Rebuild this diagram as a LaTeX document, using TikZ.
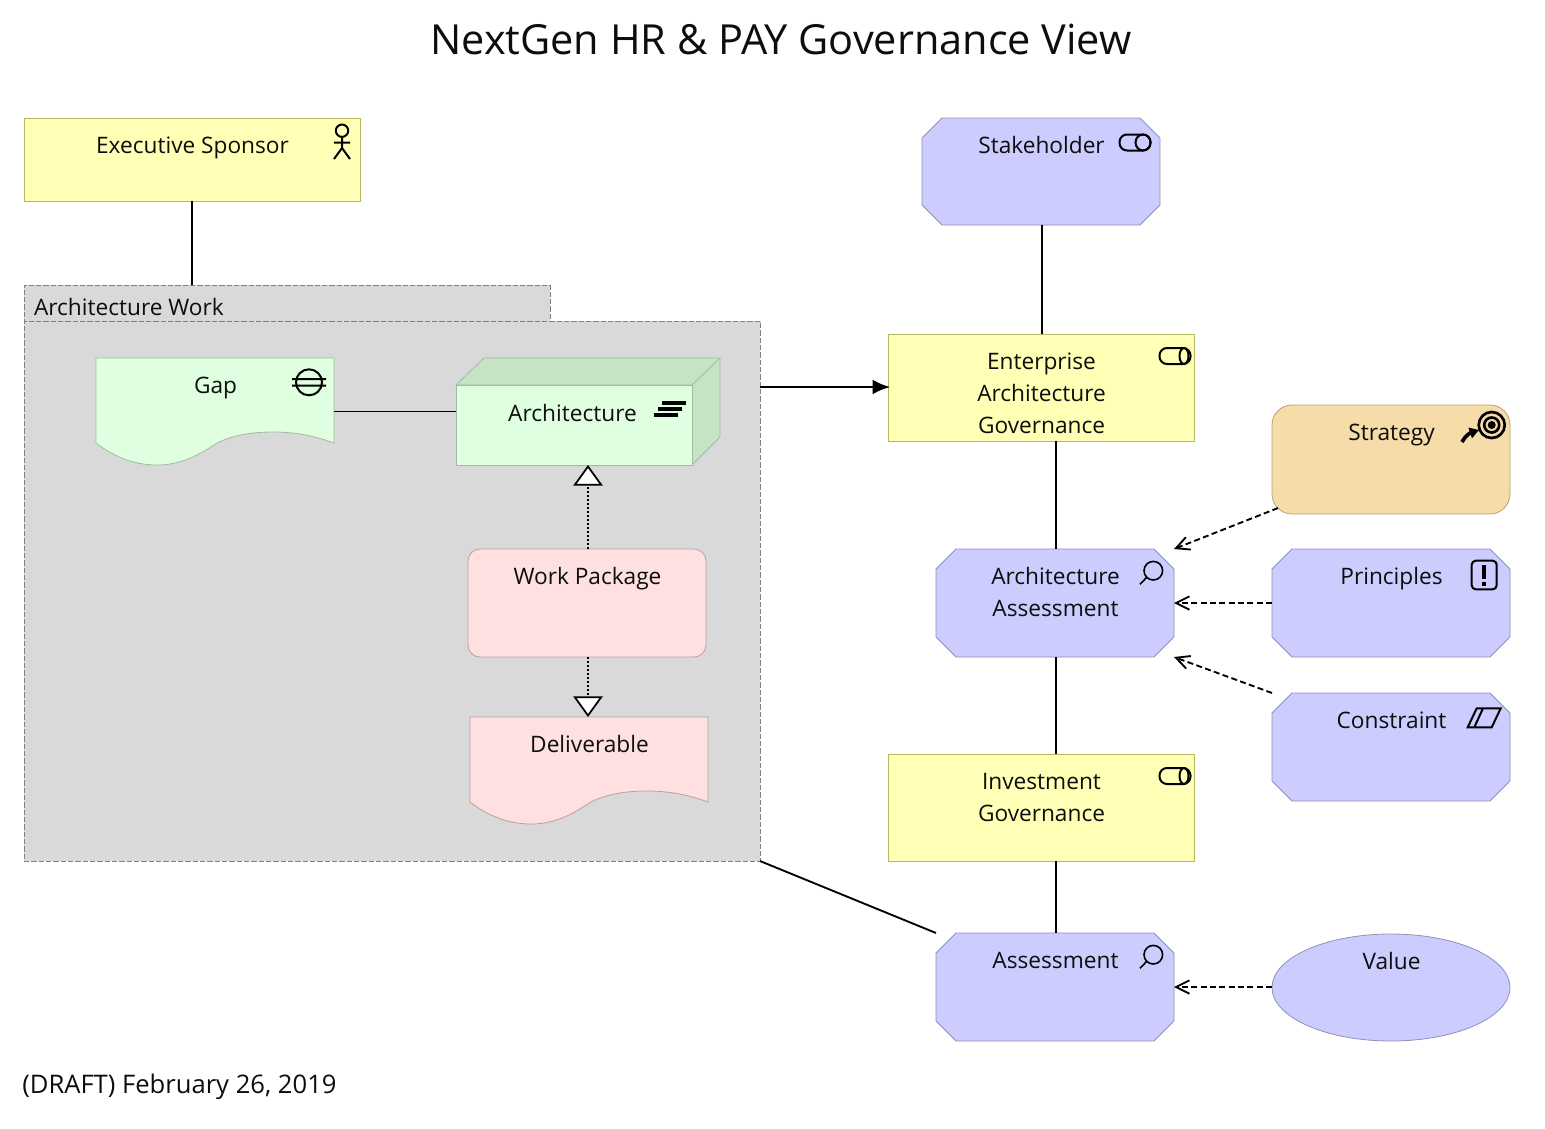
\documentclass[tikz,border=0pt]{standalone}
\usepackage{fontspec}
\setmainfont{Open Sans}
\usetikzlibrary{arrows.meta,shapes.geometric}
\definecolor{colyellow}{HTML}{FFFFB5}
\definecolor{colyellowb}{HTML}{B8B85E}
\definecolor{colblue}{HTML}{CCCCFF}
\definecolor{colblueb}{HTML}{9090B8}
\definecolor{colgreen}{HTML}{E0FFE0}
\definecolor{colgreend}{HTML}{C6E3C6}
\definecolor{colgreenb}{HTML}{A0BCA0}
\definecolor{colpink}{HTML}{FFE0E0}
\definecolor{colpinkb}{HTML}{BCA0A0}
\definecolor{colorange}{HTML}{F5DCA8}
\definecolor{colorangeb}{HTML}{B8A070}
\definecolor{colgroup}{HTML}{D9D9D9}
\tikzstyle{elem}=[rectangle,outer sep=0,inner sep=0,line width=0.6pt]
\tikzstyle{yellowbox}=[elem,draw=colyellowb,fill=colyellow]
\tikzstyle{pinkbox}=[elem,rounded corners=9pt,draw=colpinkb,fill=colpink]
\tikzstyle{orangebox}=[elem,rounded corners=15pt,draw=colorangeb,fill=colorange]
\tikzstyle{ovalbox}=[elem,ellipse,draw=colblueb,fill=colblue]
\tikzstyle{hidden}=[elem]
\tikzstyle{txt}=[font=\fontsize{17}{24}\selectfont,inner sep=0,outer sep=0,align=center,anchor=north,text=black!95]
\tikzstyle{grp}=[rectangle,outer sep=0,inner sep=0,draw=black!50,fill=colgroup,dash pattern=on 4pt off 1.5pt,line width=0.7pt]
\tikzstyle{lien}=[line width=1.4pt]
\tikzstyle{realise}=[line width=1.3pt,dash pattern=on 1.5pt off 1.5pt,-{Triangle[open,fill=white,length=15.5pt,width=22pt,line width=1.3pt]}]
\tikzstyle{influence}=[line width=1.4pt,dash pattern=on 4.5pt off 2.5pt,-{Straight Barb[length=10pt,width=10pt,line width=1.4pt]}]
\tikzstyle{flux}=[line width=1.4pt,-{Latex[length=13pt,width=11pt]}]
\tikzstyle{icone}=[line width=1.5pt,black]
% elem: style, name, left, top, right, bottom, text
\newcommand{\elem}[7]{
  \node[#1,minimum width=(#5-#3)*0.75pt,minimum height=(#6-#4)*0.75pt] (#2) at ({(#3+#5)/2},{(#4+#6)/2}) {};
  \node[txt] (#2txt) at ({(#3+#5)/2+0.5},#4+13.1) {\strut #7};
}
% same, with the cut corners
\newcommand{\cutelem}[6]{
  \path[draw=colblueb,fill=colblue,line width=0.6pt] (#2+20,#3) -- (#4-20,#3) -- (#4,#3+20) -- (#4,#5-20)
   -- (#4-20,#5) -- (#2+20,#5) -- (#2,#5-20) -- (#2,#3+20) -- cycle;
  \elem{hidden}{#1}{#2}{#3}{#4}{#5}{#6}
}
% same, with the wavy bottom of a document
\newcommand{\waveelem}[7]{
  \begin{scope}[shift={(#3,#4)}]
  \path[draw=#1b,fill=#1,line width=0.6pt] (0,0) -- (238,0) -- (238,85)
   .. controls (216,77) and (197,74) .. (177,74) .. controls (153,74) and (135,78) .. (121,85)
   .. controls (103,97) and (85,107) .. (61,107) .. controls (37,107) and (17,98) .. (0,85) -- cycle;
  \end{scope}
  \elem{hidden}{#2}{#3}{#4}{#5}{#6}{#7}
}
\newcommand{\iconrole}[3]{
  \begin{scope}[shift={#1}]
  \draw[icone,rounded corners=5.6pt] (-15.5,-8) rectangle (15.5,8);
  \draw[icone] (#2,0) ellipse (#3 and 8);
  \end{scope}
}
\newcommand{\iconloupe}[1]{
  \begin{scope}[shift={#1}]
  \draw[icone,line width=1.2pt] (0,0) circle (9.3);
  \draw[icone,line width=1.2pt] (-6.6,6.6) -- (-13.3,13.6);
  \end{scope}
}
\begin{document}
\begin{tikzpicture}[x=0.75pt,y=-0.75pt]
\useasboundingbox (0,0) rectangle (1545,1128);

\node[font=\fontsize{31.1}{38}\selectfont,text=black!95,inner sep=0] (titre) at (781,39) {NextGen HR \& PAY Governance View};
\node[font=\fontsize{19.2}{24}\selectfont,text=black!95,inner sep=0,anchor=west] (brouillon) at (22,1087) {(DRAFT) February 26, 2019};

%groupe
\node[grp,minimum width=526*0.75pt,minimum height=36*0.75pt] (tab) at (287,303) {};
\node[grp,minimum width=736*0.75pt,minimum height=540*0.75pt] (work) at (392,591) {};
\node[txt,anchor=west,font=\fontsize{17}{24}\selectfont] (worktxt) at (34,307) {Architecture Work};

%elements
\elem{yellowbox}{sponsor}{24}{118}{360}{201}{Executive Sponsor}
\cutelem{stake}{922}{118}{1160}{225}{Stakeholder}
\elem{yellowbox}{eag}{888}{334}{1194}{441}{Enterprise\\Architecture\\Governance}
\elem{orangebox}{strategy}{1272}{405}{1510}{514}{Strategy}
\cutelem{archass}{936}{549}{1174}{657}{Architecture\\Assessment}
\cutelem{principles}{1272}{549}{1510}{657}{Principles}
\cutelem{constraint}{1272}{693}{1510}{801}{Constraint}
\elem{yellowbox}{invgov}{888}{754}{1194}{861}{Investment\\Governance}
\cutelem{assess}{936}{933}{1174}{1041}{Assessment}
\elem{ovalbox}{value}{1272}{934}{1510}{1041}{Value}

\waveelem{colgreen}{gap}{96}{358}{334}{465}{Gap}
\waveelem{colpink}{deliv}{470}{717}{708}{824}{Deliverable}

%boite 3D
\path[draw=colgreenb,fill=colgreend,line width=0.6pt] (456,385) -- (484,358) -- (720,358) -- (720,437) -- (692,465) -- (692,385) -- cycle;
\draw[colgreenb,line width=0.6pt] (692,385) -- (720,358);
\node[elem,draw=colgreenb,fill=colgreen,minimum width=236*0.75pt,minimum height=80*0.75pt] (arch) at (574,425) {};
\node[txt] (archtxt) at (572.5,398.6) {\strut Architecture};

\elem{pinkbox}{wp}{468}{549}{706}{657}{Work Package}

%liens
\draw[lien] (sponsor.south) -- (sponsor.south |- tab.north);
\draw[lien] (gap.east) -- (gap.east -| arch.west);
\draw[flux,shorten >=-1.5pt] (work.east |- 0,387) -- (eag.west |- 0,387);
\draw[lien] ([xshift=0.75pt]stake.south) -- ([xshift=0.75pt]stake.south |- eag.north);
\draw[lien] ([xshift=0.75pt]archass.north |- eag.south) -- ([xshift=0.75pt]archass.north);
\draw[lien] ([xshift=0.75pt]archass.south) -- ([xshift=0.75pt]archass.south |- invgov.north);
\draw[lien] ([xshift=0.75pt]assess.north |- invgov.south) -- ([xshift=0.75pt]assess.north);
\draw[lien] (work.south east) -- (assess.west |- assess.north);
\draw[realise] ([xshift=0.75pt]wp.north) -- ([xshift=0.75pt]wp.north |- arch.south);
\draw[realise] ([xshift=0.75pt]wp.south) -- ([xshift=0.75pt]wp.south |- deliv.north);
\coordinate (stratpied) at (1278,508);
\draw[influence] (stratpied) -- (archass.east |- archass.north);
\draw[influence] (principles.west) -- (archass.east);
\draw[influence] (constraint.west |- constraint.north) -- (archass.east |- archass.south);
\draw[influence] (assess.east -| value.west) -- (assess.east);

%icones
\draw[icone] (342,130.7) circle (6.2);
\draw[icone] (342,137) -- (342,148) -- (334,159) (342,148) -- (350,159) (334,142.7) -- (350,142.7);
\iconrole{(1135,142.5)}{8}{7.5}
\iconrole{(1175,356)}{9}{4.5}
\iconrole{(1175,776)}{9}{4.5}
\draw[icone] (309,382.3) circle (13) (292,379) -- (326,379) (292,385.7) -- (326,385.7);
\draw[icone,line width=3pt] (662,402.7) -- (686,402.7) (658,409) -- (682,409) (654,415) -- (678,415);
\draw[icone,line width=2pt] (1491.7,425) circle (13) (1491.7,425) circle (7.5);
\fill (1491.7,425) circle (4);
\draw[icone,line width=2.8pt,-{Triangle[length=7pt,width=8pt]}] (1462,442) .. controls (1466,435) and (1470,433) .. (1479,430);
\iconloupe{(1153.3,570.7)}
\iconloupe{(1153.3,954.7)}
\draw[icone,rounded corners=3pt] (1471.7,560.7) rectangle (1496.7,589.3);
\draw[icone,line width=2.6pt] (1484,565) -- (1484,579) (1484,582) -- (1484,586);
\draw[icone] (1467.7,727.3) -- (1476.7,708.3) -- (1500.7,708.3) -- (1491.7,727.3) -- cycle (1483,708.3) -- (1474.3,727.3);
\end{tikzpicture}
\end{document}
